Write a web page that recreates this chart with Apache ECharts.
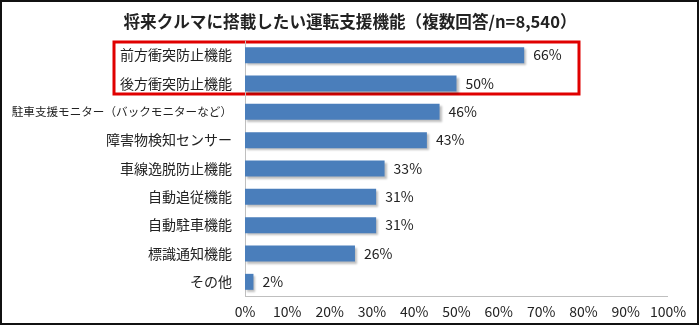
<!DOCTYPE html>
<html>
<head>
<meta charset="utf-8">
<script src="https://cdn.jsdelivr.net/npm/echarts@6/dist/echarts.min.js"></script>
<style>
  html, body { margin: 0; padding: 0; background: #fff; }
  #chart { width: 700px; height: 326px; }
</style>
</head>
<body>
<div id="chart"></div>
<script>
// Driver-assist features people want in their next car (multiple answers, n=8,540)
const categories = [
  '前方衝突防止機能',
  '後方衝突防止機能',
  '駐車支援モニター（バックモニターなど）',
  '障害物検知センサー',
  '車線逸脱防止機能',
  '自動追従機能',
  '自動駐車機能',
  '標識通知機能',
  'その他'
];
const shares = [66, 50, 46, 43, 33, 31, 31, 26, 2];
const tickValues = [0, 10, 20, 30, 40, 50, 60, 70, 80, 90, 100];

const FONT = '"Noto Sans CJK JP", "Noto Sans", sans-serif';
const chart = echarts.init(document.getElementById('chart'), null, { renderer: 'canvas' });

const gridLeft = 245, gridRight = 32, gridTop = 41, gridBottom = 30;

chart.setOption({
  animation: false,
  backgroundColor: '#ffffff',
  title: {
    text: '将来クルマに搭載したい運転支援機能（複数回答/n=8,540）',
    left: 'center',
    top: 8,
    textStyle: { fontFamily: FONT, fontSize: 16.6, fontWeight: 'bold', color: '#222' }
  },
  grid: {
    left: gridLeft, right: gridRight, top: gridTop, bottom: gridBottom,
    containLabel: false,
    outerBoundsMode: 'none'
  },
  xAxis: {
    type: 'value',
    min: tickValues[0],
    max: tickValues[tickValues.length - 1],
    interval: 10,
    axisLine: { show: false },
    axisTick: { show: false },
    splitLine: { show: false },
    axisLabel: {
      margin: 9,
      fontFamily: FONT, fontSize: 14, color: '#222',
      formatter: v => v + '%'
    }
  },
  yAxis: {
    type: 'category',
    data: categories,
    inverse: true,
    axisLine: { show: true, lineStyle: { color: '#bfbfbf', width: 1 } },
    axisTick: { show: false },
    axisLabel: {
      margin: 13, fontFamily: FONT, fontSize: 14, color: '#222',
      // the long monitor label is set a little tighter so it stays inside the frame
      formatter: v => v.length > 12 ? '{long|' + v + '}' : v,
      rich: { long: { fontFamily: FONT, fontSize: 11.6, color: '#222' } }
    }
  },
  series: [{
    type: 'bar',
    data: shares,
    barWidth: 16,
    itemStyle: {
      color: '#4a7ebb',
      shadowColor: 'rgba(0,0,0,0.25)',
      shadowBlur: 2,
      shadowOffsetX: 2,
      shadowOffsetY: 2
    },
    label: {
      show: true,
      position: 'right',
      distance: 9,
      fontFamily: FONT, fontSize: 14, color: '#222',
      formatter: p => p.value + '%'
    },
    markLine: {
      silent: true,
      symbol: 'none',
      label: { show: false },
      lineStyle: { color: '#bfbfbf', width: 1, type: 'solid' },
      data: [[{ xAxis: 0, y: 326 - gridBottom }, { xAxis: 100, y: 326 - gridBottom }]]
    }
  }],
  graphic: [
    {
      type: 'rect',
      shape: { x: 1, y: 1, width: 697, height: 323 },
      style: { fill: 'none', stroke: '#111', lineWidth: 2 },
      silent: true
    },
    {
      type: 'rect',
      shape: { x: 114, y: 42, width: 465, height: 52 },
      style: { fill: 'none', stroke: '#e00000', lineWidth: 3 },
      silent: true
    }
  ]
});
</script>
</body>
</html>
